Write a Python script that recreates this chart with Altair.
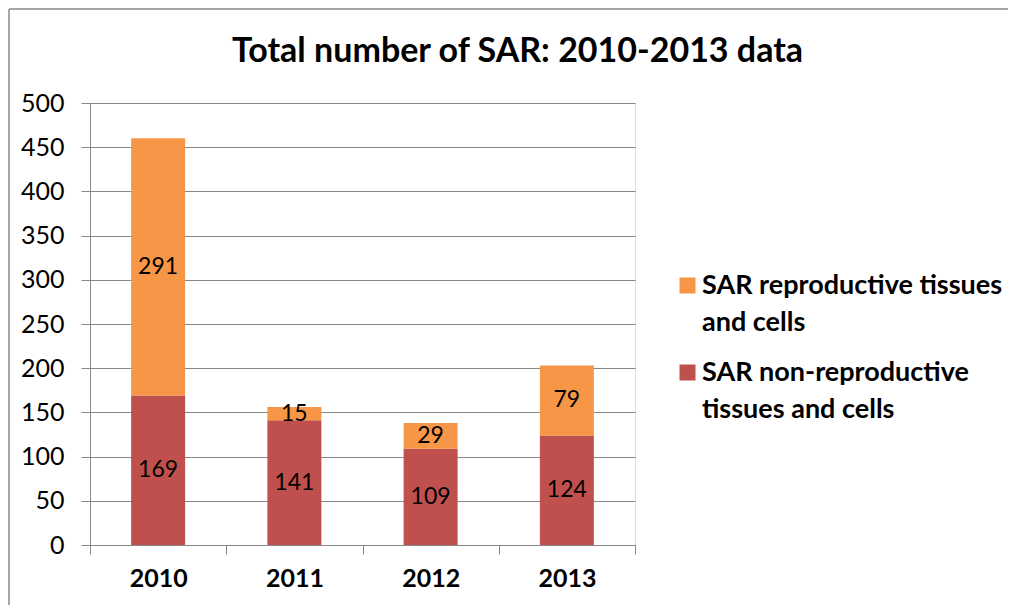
import altair as alt
import pandas as pd

years = ["2010", "2011", "2012", "2013"]
non_repro = [169, 141, 109, 124]
repro = [291, 15, 29, 79]
series = ["SAR reproductive tissues and cells", "SAR non-reproductive tissues and cells"]
series_lines = [["SAR reproductive tissues", "and cells"], ["SAR non-reproductive", "tissues and cells"]]
colors = ["#F79646", "#C0504D"]
y_ticks = [0, 50, 100, 150, 200, 250, 300, 350, 400, 450, 500]
title_text = "Total number of SAR: 2010-2013 data"

rows = []
for i, yr in enumerate(years):
    rows.append({"year": yr, "series": series[1], "value": non_repro[i], "ord": 0})
    rows.append({"year": yr, "series": series[0], "value": repro[i], "ord": 1})
df = pd.DataFrame(rows)

FONT = "Lato"
W, H = 545, 442

label_expr = (
    f"datum.label == '{series[0]}' ? {series_lines[0]!r} : {series_lines[1]!r}"
).replace('"', "'")

base = alt.Chart(df).transform_stack(
    stack="value", groupby=["year"], as_=["y0", "y1"],
    sort=[alt.SortField("ord", order="ascending")]
).transform_calculate(mid="(datum.y0 + datum.y1) / 2")

xenc = alt.X("year:N", sort=years, title=None,
             scale=alt.Scale(paddingInner=0, paddingOuter=0),
             axis=alt.Axis(labelAngle=0, labelFont=FONT, labelFontSize=25,
                           labelFontWeight="bold", labelColor="black",
                           tickBand="extent", tickSize=9, tickColor="#888888",
                           domainColor="#888888", labelPadding=12, grid=False))

bars = base.mark_bar(size=54).encode(
    x=xenc,
    y=alt.Y("y0:Q", title=None,
            scale=alt.Scale(domain=[0, 500], nice=False),
            axis=alt.Axis(values=y_ticks, labelFont=FONT, labelFontSize=25,
                          labelColor="black", tickSize=9, tickColor="#888888",
                          domainColor="#888888", gridColor="#888888",
                          labelPadding=17)),
    y2="y1:Q",
    color=alt.Color("series:N",
                    scale=alt.Scale(domain=series, range=colors),
                    legend=alt.Legend(title=None, orient="none", legendX=584, legendY=169,
                                      symbolType="square", symbolSize=256,
                                      symbolStrokeWidth=0, labelFont=FONT,
                                      labelFontSize=27, labelFontWeight="bold",
                                      labelColor="black", labelLimit=500,
                                      labelOffset=1, rowPadding=22, padding=0,
                                      labelExpr=label_expr)),
)

texts = base.mark_text(font=FONT, fontSize=23, color="black", baseline="middle").encode(
    x=alt.X("year:N", sort=years),
    y=alt.Y("mid:Q"),
    text=alt.Text("value:Q"),
)

border_df = pd.DataFrame({"a": [0]})
left_border = alt.Chart(border_df).mark_rule(color="#888888", strokeWidth=1.5).encode(
    x=alt.value(-81), y=alt.value(-94), y2=alt.value(H + 70))
top_border = alt.Chart(border_df).mark_rule(color="#888888", strokeWidth=1.5).encode(
    x=alt.value(-81), x2=alt.value(W + 380), y=alt.value(-94))

chart = alt.layer(bars, texts, left_border, top_border).properties(
    width=W, height=H,
    title=alt.TitleParams(title_text, font=FONT, fontSize=34, fontWeight="bold",
                          color="black", anchor="middle", frame="group",
                          dx=155, offset=-61),
    autosize=alt.AutoSizeParams(type="none"),
    padding={"left": 82, "top": 95, "right": 373, "bottom": 60},
).configure_view(stroke=None).configure(
    background="white",
    style={"guide-label": {"lineHeight": 37}},
)

chart.save("out.html", embed_options={"renderer": "svg", "actions": False})
